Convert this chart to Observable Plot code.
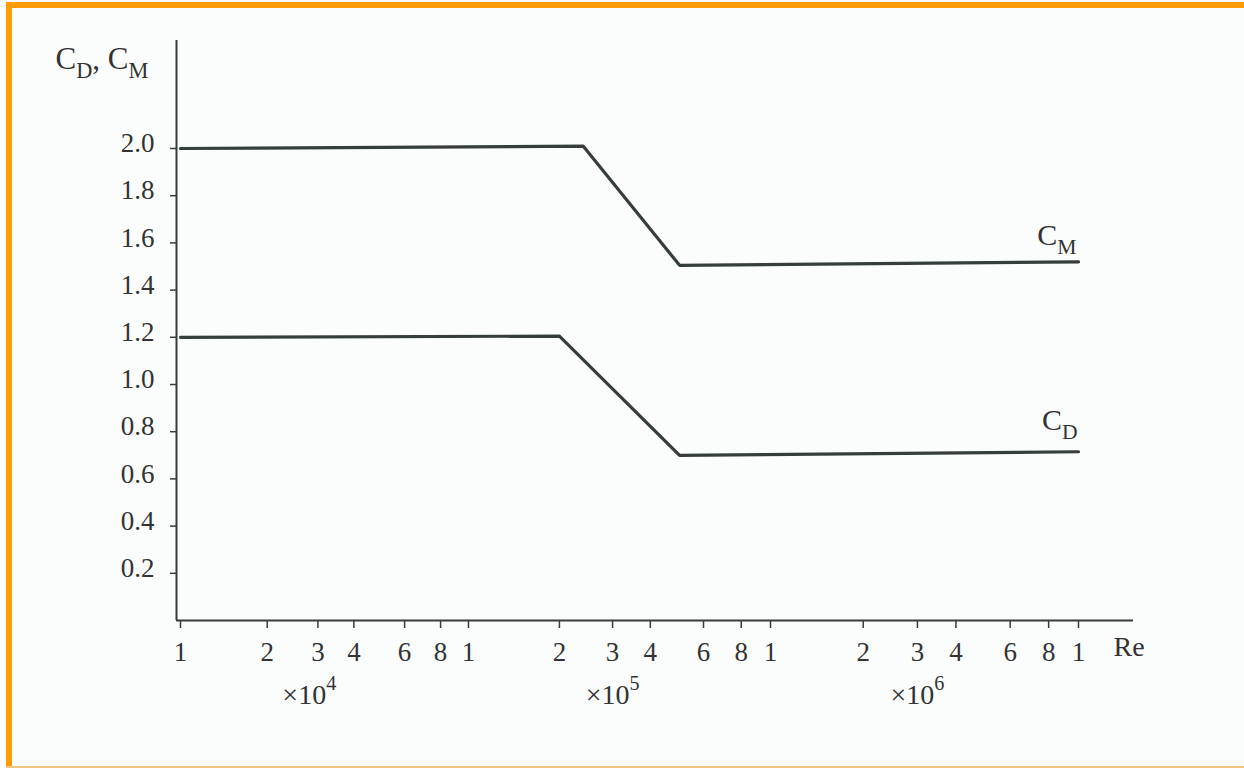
<!DOCTYPE html>
<html>
<head>
<meta charset="utf-8">
<script src="https://cdn.jsdelivr.net/npm/d3@7"></script>
<script src="https://cdn.jsdelivr.net/npm/@observablehq/plot@0.6"></script>
<style>
  html, body { margin: 0; padding: 0; background: #ffffff; }
  #wrap { position: relative; width: 1244px; height: 768px; background: #fbfdfd; overflow: hidden; }
  .bt { position: absolute; left: 6px; top: 2px; right: 0; height: 6px; background: #ff9c05; }
  .bl { position: absolute; left: 6px; top: 2px; width: 6px; bottom: 1px; background: #ff9c05; }
  .bb { position: absolute; left: 6px; right: 0; bottom: 0; height: 2px; background: #f3c47e; }
  #chart { position: absolute; left: 0; top: 0; }
</style>
</head>
<body>
<div id="wrap">
  <div class="bt"></div><div class="bl"></div><div class="bb"></div>
  <div id="chart"></div>
</div>
<script>
// ---- data ----
const cmRe  = [1e4, 2.4e5, 5e5, 1e7];
const cmVal = [2.0, 2.01, 1.505, 1.52];
const cdRe  = [1e4, 2e5, 5e5, 1e7];
const cdVal = [1.2, 1.205, 0.70, 0.715];

const xTicks = [1e4, 2e4, 3e4, 4e4, 6e4, 8e4,
                1e5, 2e5, 3e5, 4e5, 6e5, 8e5,
                1e6, 2e6, 3e6, 4e6, 6e6, 8e6, 1e7];
const yTicks = [0.2, 0.4, 0.6, 0.8, 1.0, 1.2, 1.4, 1.6, 1.8, 2.0];
const multiplierAt = [2.8e4, 3e5, 3e6];
const multiplierLabels = ["×10^4", "×10^5", "×10^6"];
const seriesNames = ["C_M", "C_D"];
const titleText = "C_D, C_M";
const xLabel = "Re";

// ---- tables ----
const cm = cmRe.map((re, i) => ({re, v: cmVal[i]}));
const cd = cdRe.map((re, i) => ({re, v: cdVal[i]}));
const multipliers = multiplierAt.map((at, i) => ({at, label: multiplierLabels[i]}));

const ink = "#363e3c";
const txt = "#333333";
const leading = d => String(Math.round(d / Math.pow(10, Math.floor(Math.log10(d) + 1e-9))));

const chart = Plot.plot({
  width: 1244,
  height: 768,
  marginLeft: 176,
  marginRight: 111,
  marginTop: 40,
  marginBottom: 148,
  x: {type: "log", domain: [1e4, 1e5, 1e6, 1e7], range: [180, 468, 770, 1078], label: null},
  y: {domain: [0, 2], range: [620, 148], label: null},
  style: {background: "transparent", fontFamily: "'Liberation Serif', 'DejaVu Serif', serif", color: txt},
  marks: [
    // axis lines
    Plot.ruleY([0], {stroke: "#3a3a3a", strokeWidth: 2}),
    Plot.ruleX([1e4], {stroke: "#3a3a3a", strokeWidth: 2, dx: -4}),
    // y ticks and labels
    Plot.axisY({ticks: yTicks, tickSize: 6, fill: "none", stroke: "#3a3a3a", strokeWidth: 1.5}),
    Plot.axisY({ticks: yTicks, tickSize: 0, tickPadding: 22, dy: -5, tickFormat: d3.format(".1f"),
                fontSize: 27, fill: txt}),
    // x ticks and labels
    Plot.axisX({ticks: xTicks, anchor: "bottom", tickSize: 8, fill: "none", stroke: "#3a3a3a", strokeWidth: 1.5}),
    Plot.text(xTicks, {x: d => d, frameAnchor: "bottom", text: leading, lineAnchor: "top",
                dy: 21, fontSize: 27, fill: txt}),
    // series
    Plot.line(cm, {x: "re", y: "v", stroke: ink, strokeWidth: 3.2, strokeLinejoin: "miter"}),
    Plot.line(cd, {x: "re", y: "v", stroke: ink, strokeWidth: 3.2, strokeLinejoin: "miter"}),
    // series labels
    Plot.text([cm[cm.length - 1]], {x: "re", y: "v", text: () => seriesNames[0], textAnchor: "end",
                lineAnchor: "bottom", dx: -2, dy: -17, fontSize: 30, fill: txt}),
    Plot.text([cd[cd.length - 1]], {x: "re", y: "v", text: () => seriesNames[1], textAnchor: "end",
                lineAnchor: "bottom", dx: -1, dy: -22, fontSize: 30, fill: txt}),
    // multipliers
    Plot.text(multipliers, {x: "at", frameAnchor: "bottom", text: "label", lineAnchor: "bottom",
                dy: 83, fontSize: 28, fill: txt}),
    // axis titles
    Plot.text([titleText], {frameAnchor: "top-left", textAnchor: "start", lineAnchor: "bottom",
                dx: -121, dy: 28, fontSize: 31, fill: txt}),
    Plot.text([xLabel], {frameAnchor: "bottom-right", textAnchor: "start", lineAnchor: "bottom",
                dx: -20, dy: 35, fontSize: 28, fill: txt})
  ]
});

// turn "_X" / "^X" into real subscript / superscript tspans
function scriptify(root) {
  root.querySelectorAll("text").forEach(el => {
    const s = el.textContent;
    if (!/[_^]/.test(s)) return;
    const holder = el.closest("[font-size]");
    const fs = holder ? parseFloat(holder.getAttribute("font-size")) : 26;
    const parts = [];
    let buf = "";
    for (let i = 0; i < s.length; i++) {
      const c = s[i];
      if ((c === "_" || c === "^") && i + 1 < s.length) {
        if (buf) parts.push({t: buf, k: 0});
        buf = "";
        parts.push({t: s[i + 1], k: c === "_" ? 1 : -1});
        i++;
      } else buf += c;
    }
    if (buf) parts.push({t: buf, k: 0});
    while (el.firstChild) el.removeChild(el.firstChild);
    let cur = 0;
    for (const p of parts) {
      const ts = document.createElementNS("http://www.w3.org/2000/svg", "tspan");
      const target = p.k === 1 ? fs * 0.3 : p.k === -1 ? -fs * 0.48 : 0;
      const d = target - cur;
      if (d) ts.setAttribute("dy", d.toFixed(2));
      if (p.k) ts.setAttribute("font-size", (fs * 0.72).toFixed(2));
      ts.textContent = p.t;
      el.appendChild(ts);
      cur = target;
    }
  });
}
scriptify(chart);
document.getElementById("chart").appendChild(chart);
</script>
</body>
</html>
